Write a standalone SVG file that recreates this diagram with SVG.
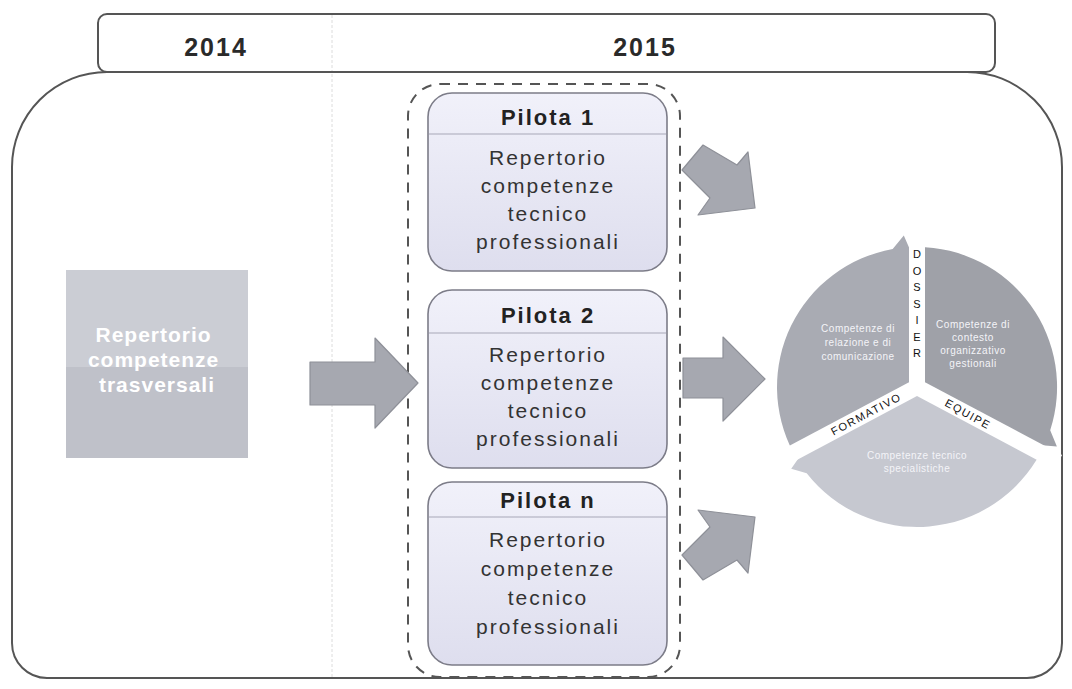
<svg xmlns="http://www.w3.org/2000/svg" width="1072" height="689" viewBox="0 0 1072 689">
<defs>
<style>
.frame{fill:none;stroke:#555;stroke-width:2}
.pbox{fill:url(#pg);stroke:#7c7c88;stroke-width:1.6}
.pdiv{stroke:#a8a8b8;stroke-width:1.2}
.ptitle{font-family:"Liberation Sans",Arial,sans-serif;font-size:22px;font-weight:bold;fill:#222;text-anchor:middle;letter-spacing:2px}
.ptext{font-family:"Liberation Sans",Arial,sans-serif;font-size:21px;fill:#333;text-anchor:middle;letter-spacing:2px}
.year{font-family:"Liberation Sans",Arial,sans-serif;font-size:25px;font-weight:bold;fill:#2a2a2a;text-anchor:middle;letter-spacing:2px}
.arrow{fill:#a6a8b0;stroke:#8e9098;stroke-width:1.2;stroke-linejoin:round}
.seg{font-family:"Liberation Sans",Arial,sans-serif;font-size:10px;fill:#f4f4f8;text-anchor:middle;letter-spacing:0.5px}
.lab{font-family:"Liberation Sans",Arial,sans-serif;font-size:11px;fill:#111;text-anchor:middle}
.gap{stroke:#fff;stroke-width:16;stroke-linecap:butt}
</style>
<linearGradient id="pg" x1="0" y1="0" x2="0" y2="1">
<stop offset="0" stop-color="#f1f1fa"/>
<stop offset="1" stop-color="#dedeee"/>
</linearGradient>
</defs>
<rect width="1072" height="689" fill="#fff"/>

<g id="frame">
<path class="frame" d="M107 72 H967 A95 95 0 0 1 1062 167 V643 A35 35 0 0 1 1027 678 H47 A35 35 0 0 1 12 643 V167 A95 95 0 0 1 107 72 Z"/>
<line x1="332" y1="14" x2="332" y2="678" stroke="#dcdcdc" stroke-width="1" stroke-dasharray="3 2"/>
</g>

<g id="header">
<rect x="98" y="14" width="897" height="58" rx="9" fill="#fff" stroke="#555" stroke-width="2"/>
<line x1="332" y1="15" x2="332" y2="71" stroke="#dcdcdc" stroke-width="1" stroke-dasharray="3 2"/>
<text class="year" x="216" y="56">2014</text>
<text class="year" x="645" y="56">2015</text>
</g>

<g id="trasversali">
<rect x="66" y="270" width="182" height="97" fill="#cbcdd4"/>
<rect x="66" y="367" width="182" height="91" fill="#bfc1c9"/>
<text font-family="Liberation Sans,Arial,sans-serif" font-size="21" font-weight="bold" fill="#fff" text-anchor="middle" letter-spacing="1">
<tspan x="157" y="342">Repertorio</tspan>
<tspan x="157" y="367">competenze</tspan>
<tspan x="157" y="392">trasversali</tspan>
</text>
</g>

<g id="pilot-group">
<rect x="408" y="84" width="272" height="593" rx="32" fill="none" stroke="#555" stroke-width="2" stroke-dasharray="10 8"/>
</g>

<g id="pilota1">
<rect class="pbox" x="428" y="93" width="239" height="178" rx="24"/>
<line class="pdiv" x1="429" y1="134" x2="666" y2="134"/>
<text class="ptitle" x="548" y="125">Pilota 1</text>
<text class="ptext"><tspan x="548" y="165">Repertorio</tspan><tspan x="548" y="193">competenze</tspan><tspan x="548" y="221">tecnico</tspan><tspan x="548" y="249">professionali</tspan></text>
</g>

<g id="pilota2">
<rect class="pbox" x="428" y="290" width="239" height="178" rx="24"/>
<line class="pdiv" x1="429" y1="333" x2="666" y2="333"/>
<text class="ptitle" x="548" y="323">Pilota 2</text>
<text class="ptext"><tspan x="548" y="362">Repertorio</tspan><tspan x="548" y="390">competenze</tspan><tspan x="548" y="418">tecnico</tspan><tspan x="548" y="446">professionali</tspan></text>
</g>

<g id="pilotan">
<rect class="pbox" x="428" y="482" width="239" height="183" rx="24"/>
<line class="pdiv" x1="429" y1="517" x2="666" y2="517"/>
<text class="ptitle" x="548" y="508">Pilota n</text>
<text class="ptext"><tspan x="548" y="547">Repertorio</tspan><tspan x="548" y="576">competenze</tspan><tspan x="548" y="605">tecnico</tspan><tspan x="548" y="634">professionali</tspan></text>
</g>

<g id="connectors">
<polygon class="arrow" points="310,362 375,362 375,338 418,383 375,428 375,405 310,405"/>
<polygon class="arrow" points="683,358 723,358 723,337 765,379 723,421 723,398 683,398"/>
<polygon class="arrow" points="703,145 737,165 748,152 755,208 698,215 710,198 682,170"/>
<polygon class="arrow" points="703,580 737,560 748,573 755,517 698,510 710,527 682,555"/>
</g>

<g id="cycle">
<path d="M917 387 L793.4 452.7 A140 140 0 0 1 892.7 249.1 L903.8 235.6 L909.8 249.2 Z" fill="#a9abb3"/>
<path d="M917 387 L917 247 A140 140 0 0 1 1050.2 430.3 L1056.9 446.4 L1042.1 445.3 Z" fill="#9fa1a8"/>
<path d="M917 387 L1040.6 452.7 A140 140 0 0 1 806.7 473.2 L791.2 468.7 L798.7 458.1 Z" fill="#c6c8d0"/>
<line class="gap" x1="917" y1="387" x2="917" y2="225"/>
<line class="gap" x1="917" y1="387" x2="1058.3" y2="462.1"/>
<line class="gap" x1="917" y1="387" x2="775.7" y2="462.1"/>
<text class="seg"><tspan x="858" y="332">Competenze di</tspan><tspan x="858" y="346">relazione e di</tspan><tspan x="858" y="360">comunicazione</tspan></text>
<text class="seg"><tspan x="973" y="328">Competenze di</tspan><tspan x="973" y="341">contesto</tspan><tspan x="973" y="354">organizzativo</tspan><tspan x="973" y="367">gestionali</tspan></text>
<text class="seg"><tspan x="917" y="459">Competenze tecnico</tspan><tspan x="917" y="472">specialistiche</tspan></text>
<text class="lab"><tspan x="917" y="258">D</tspan><tspan x="917" y="274.5">O</tspan><tspan x="917" y="291">S</tspan><tspan x="917" y="307.5">S</tspan><tspan x="917" y="324">I</tspan><tspan x="917" y="340.5">E</tspan><tspan x="917" y="357">R</tspan></text>
<text class="lab" letter-spacing="1.5" transform="translate(866,414) rotate(-28)" x="0" y="4">FORMATIVO</text>
<text class="lab" letter-spacing="1.5" transform="translate(968,414) rotate(29)" x="0" y="4">EQUIPE</text>
</g>
</svg>
